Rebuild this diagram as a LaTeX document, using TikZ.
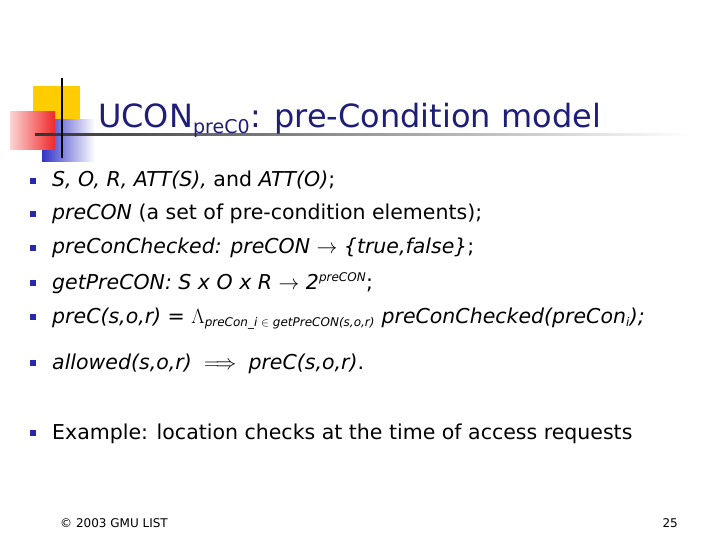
\documentclass[tikz,border=0pt]{standalone}
\usepackage{fontspec}
\setmainfont{DejaVu Sans}
\usetikzlibrary{shadings}
\definecolor{navy}{RGB}{30,30,120}
\definecolor{bul}{RGB}{40,40,170}
\definecolor{ylw}{RGB}{255,204,0}
\definecolor{rd}{RGB}{240,40,40}
\definecolor{bsq}{RGB}{50,50,200}
\begin{document}
\begin{tikzpicture}[x=1pt,y=-1pt,
  bullet/.style={fill=bul,minimum size=6.5pt,inner sep=0pt},
  txt/.style={anchor=base west,inner sep=0pt,font=\fontsize{20.5}{24}\selectfont},
  sm/.style={font=\fontsize{12}{13}\selectfont}
]
\useasboundingbox (0,0) rectangle (720,540);
% logo
\fill[ylw] (33,86) rectangle (80,132);
\shade[left color=bsq,right color=white] (42,120) rectangle (95,162);
\shade[left color=rd!20,right color=rd] (10,112) rectangle (55,150);
\shade[left color=black!80,right color=white] (35,133.5) rectangle (690,135.5);
\draw[line width=1.5pt] (62,78) -- (62,158);
\node[anchor=base west,inner sep=0pt,text=navy,font=\fontsize{32}{36}\selectfont] (title) at (98,128) {UCON\textsubscript{\fontsize{19}{20}\selectfont preC0}: pre-Condition model};
% bullets
\foreach \y/\n in {180/b1,213/b2,247/b3,282/b4,316/b5,362/b6,432/b7}
  \node[bullet] (\n) at (33,\y+1) {};
\node[txt] (t1) at (52,187) {\textit{S, O, R, ATT(S),} and \textit{ATT(O)};};
\node[txt] (t2) at (52,220) {\textit{preCON} (a set of pre-condition elements);};
\node[txt] (t3) at (52,254) {\textit{preConChecked: preCON $\rightarrow$ \{true,false\}};};
\node[txt] (t4) at (52,289) {\textit{getPreCON: S x O x R $\rightarrow$ 2\textsuperscript{\fontsize{12}{13}\selectfont preCON}};};
\node[txt] (t5) at (52,323) {\textit{preC(s,o,r) = $\Lambda$\textsubscript{\fontsize{12}{13}\selectfont preCon\_i $\in$ getPreCON(s,o,r)} preConChecked(preCon\textsubscript{\fontsize{12}{13}\selectfont i});}};
\node[txt] (t6) at (52,369) {\textit{allowed(s,o,r) $\;\Longrightarrow\;$ preC(s,o,r)}.};
\node[txt] (t7) at (52,439) {Example: location checks at the time of access requests};
\node[anchor=base west,inner sep=0pt,sm] (ft) at (60,527) {© 2003 GMU LIST};
\node[anchor=base east,inner sep=0pt,sm] (pg) at (678,527) {25};
\end{tikzpicture}
\end{document}
